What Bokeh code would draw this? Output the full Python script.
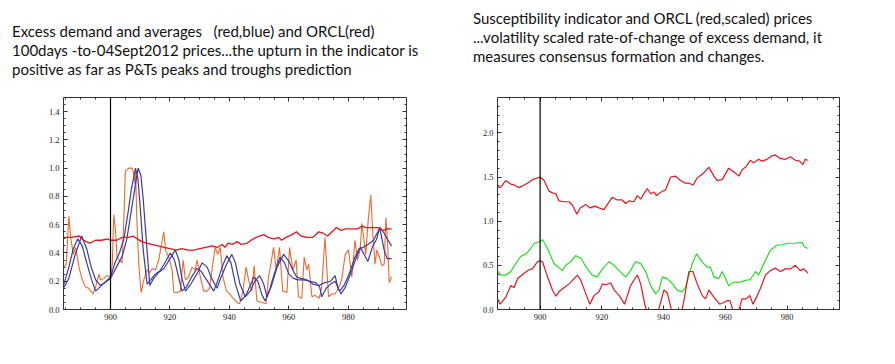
from bokeh.plotting import figure
from bokeh.models import (Div, Span, LinearAxis, FixedTicker, Range1d, NumeralTickFormatter,
                          CustomLabelingPolicy)
from bokeh.layouts import row, column
from bokeh.embed import file_html
from bokeh.resources import INLINE

# ---------------- data: left chart ----------------
orange_x = [884.2, 885.1, 886.0, 886.6, 887.5, 888.3, 889.4, 890.5, 891.6, 892.7, 894.1, 895.0, 896.1, 896.6,
            897.8, 898.9, 900.0, 900.6, 901.1, 901.7, 902.2, 903.0, 903.9, 904.5, 905.0, 906.2, 907.3, 907.8,
            908.2, 908.4, 908.9, 909.5, 910.3, 911.2, 912.3, 913.2, 914.0, 915.1, 916.2, 917.9, 918.5, 919.6,
            920.7, 921.3, 922.4, 923.5, 924.4, 925.2, 926.3, 927.4, 928.5, 929.1, 930.2, 931.3, 932.4, 933.3,
            934.1, 935.2, 936.0, 936.9, 937.8, 939.0, 940.0, 941.2, 942.5, 943.4, 944.5, 945.6, 946.4, 947.5,
            948.3, 949.2, 950.9, 952.3, 953.1, 953.9, 954.8, 955.7, 956.8, 957.9, 959.3, 960.2, 961.3, 962.4,
            963.2, 964.3, 965.1, 966.0, 966.6, 967.7, 968.8, 970.2, 971.0, 972.1, 973.3, 974.4, 975.5, 976.6,
            977.7, 978.9, 980.0, 981.1, 982.2, 983.0, 983.9, 984.5, 985.8, 986.7, 987.5, 988.1, 988.9, 989.5,
            990.4, 991.2, 992.0, 992.6, 993.1, 993.7, 994.5]
orange_v = [0.30, 0.32, 0.66, 0.51, 0.39, 0.44, 0.30, 0.21, 0.16, 0.15, 0.11, 0.16, 0.25, 0.21,
            0.22, 0.24, 0.23, 0.32, 0.67, 0.56, 0.37, 0.35, 0.33, 0.65, 0.98, 1.00, 1.00, 0.96,
            0.89, 0.98, 0.61, 0.32, 0.12, 0.21, 0.28, 0.26, 0.29, 0.28, 0.35, 0.55, 0.42, 0.37,
            0.28, 0.12, 0.12, 0.13, 0.35, 0.21, 0.23, 0.30, 0.28, 0.35, 0.23, 0.13, 0.13, 0.15,
            0.28, 0.44, 0.39, 0.44, 0.23, 0.13, 0.11, 0.08, 0.05, 0.04, 0.13, 0.30, 0.21, 0.13,
            0.31, 0.06, 0.05, 0.04, 0.23, 0.32, 0.44, 0.28, 0.44, 0.13, 0.12, 0.44, 0.28, 0.35,
            0.09, 0.08, 0.37, 0.28, 0.32, 0.09, 0.10, 0.08, 0.16, 0.51, 0.09, 0.11, 0.11, 0.15,
            0.21, 0.39, 0.42, 0.23, 0.49, 0.35, 0.42, 0.61, 0.39, 0.65, 0.81, 0.56, 0.32, 0.42,
            0.37, 0.31, 0.32, 0.65, 0.49, 0.19, 0.23]

blue_a_x = [884.2, 886.0, 887.5, 889.0, 890.5, 892.0, 893.5, 895.0, 896.5, 898.0, 900.0, 901.5, 903.0, 904.5,
            906.0, 907.0, 908.4, 909.2, 910.0, 911.0, 912.3, 913.5, 915.0, 916.5, 918.0, 920.1, 921.5, 923.0,
            924.0, 925.5, 927.0, 929.0, 930.5, 932.0, 934.7, 936.0, 937.5, 939.1, 940.5, 942.0, 943.8, 945.5,
            947.0, 948.1, 949.5, 951.0, 952.0, 953.5, 955.0, 957.0, 958.5, 960.0, 961.5, 963.0, 965.0, 967.0,
            969.0, 970.3, 971.0, 972.5, 974.0, 975.5, 977.0, 978.5, 980.0, 982.0, 983.5, 985.0, 986.5, 988.4,
            990.6, 991.7, 993.0, 994.5]
blue_a_v = [0.17, 0.30, 0.43, 0.50, 0.45, 0.33, 0.22, 0.13, 0.16, 0.19, 0.23, 0.33, 0.40, 0.50,
            0.70, 0.85, 1.00, 0.93, 0.72, 0.42, 0.18, 0.21, 0.25, 0.27, 0.32, 0.40, 0.35, 0.22,
            0.13, 0.16, 0.22, 0.29, 0.27, 0.22, 0.13, 0.20, 0.30, 0.38, 0.33, 0.18, 0.06, 0.10,
            0.17, 0.23, 0.20, 0.10, 0.06, 0.14, 0.25, 0.37, 0.33, 0.25, 0.22, 0.21, 0.21, 0.20,
            0.19, 0.16, 0.09, 0.15, 0.18, 0.20, 0.13, 0.17, 0.24, 0.36, 0.43, 0.44, 0.46, 0.49,
            0.58, 0.55, 0.50, 0.45]

blue_b_x = [884.2, 886.0, 888.0, 890.3, 892.0, 893.5, 895.0, 896.6, 898.0, 900.0, 902.0, 904.0, 905.5, 907.0,
            908.5, 909.3, 910.2, 911.0, 912.0, 913.2, 914.5, 916.0, 918.0, 920.0, 921.8, 923.0, 924.0, 925.2,
            927.0, 929.0, 930.8, 932.5, 934.0, 935.8, 937.0, 939.0, 940.8, 942.0, 943.5, 945.3, 947.0, 948.5,
            950.1, 951.5, 952.6, 954.0, 956.0, 958.2, 960.0, 961.5, 962.6, 964.0, 966.0, 968.0, 970.0, 972.0,
            974.0, 975.5, 976.5, 977.5, 979.0, 981.0, 982.5, 984.0, 985.5, 986.5, 988.0, 989.5, 990.5, 992.0,
            993.0, 994.5]
blue_b_v = [0.15, 0.22, 0.38, 0.52, 0.43, 0.30, 0.21, 0.17, 0.19, 0.22, 0.30, 0.38, 0.50, 0.70,
            0.90, 1.00, 0.95, 0.78, 0.50, 0.17, 0.22, 0.26, 0.29, 0.36, 0.42, 0.35, 0.22, 0.13,
            0.18, 0.25, 0.33, 0.30, 0.22, 0.15, 0.22, 0.32, 0.39, 0.33, 0.18, 0.09, 0.13, 0.20,
            0.24, 0.18, 0.09, 0.16, 0.30, 0.39, 0.34, 0.27, 0.23, 0.22, 0.21, 0.18, 0.17, 0.19,
            0.20, 0.24, 0.15, 0.11, 0.16, 0.27, 0.36, 0.44, 0.38, 0.34, 0.44, 0.50, 0.58, 0.42,
            0.36, 0.36]

price_l_x = [884.2, 887.0, 889.5, 891.0, 893.0, 895.0, 897.0, 899.0, 900.0, 902.0, 904.0, 906.0, 907.5, 909.0,
             910.5, 912.0, 914.0, 916.0, 918.0, 920.0, 922.0, 924.0, 926.0, 928.0, 930.0, 932.0, 934.0, 936.0,
             937.5, 938.5, 939.5, 941.0, 942.5, 944.0, 946.0, 948.0, 950.0, 951.5, 953.0, 955.0, 956.5, 957.5,
             959.0, 961.0, 962.5, 964.0, 966.0, 968.0, 970.0, 971.5, 973.0, 974.5, 976.0, 977.5, 979.0, 981.0,
             983.0, 984.5, 986.0, 988.0, 990.0, 991.5, 993.0, 994.5]
price_l_v = [0.51, 0.51, 0.52, 0.49, 0.47, 0.49, 0.49, 0.50, 0.49, 0.49, 0.51, 0.51, 0.52, 0.50,
             0.48, 0.47, 0.46, 0.45, 0.44, 0.43, 0.42, 0.43, 0.42, 0.42, 0.43, 0.44, 0.45, 0.44,
             0.46, 0.44, 0.47, 0.46, 0.48, 0.46, 0.47, 0.50, 0.52, 0.53, 0.51, 0.50, 0.51, 0.49,
             0.51, 0.53, 0.55, 0.52, 0.51, 0.51, 0.55, 0.54, 0.52, 0.55, 0.58, 0.56, 0.57, 0.57,
             0.57, 0.59, 0.58, 0.58, 0.58, 0.56, 0.57, 0.57]

# ---------------- data: right chart ----------------
price_r_x = [886.2, 887.0, 887.8, 888.9, 890.5, 891.6, 893.0, 894.3, 895.9, 897.5, 900.0, 901.3, 902.9, 904.0,
             905.1, 906.1, 907.8, 909.4, 910.5, 911.9, 913.0, 914.8, 916.2, 917.7, 919.1, 920.7, 921.8, 923.4,
             925.0, 926.6, 927.7, 928.8, 930.4, 931.5, 932.6, 934.7, 935.8, 936.9, 937.7, 939.6, 940.6, 942.3,
             943.9, 945.5, 947.1, 948.2, 949.6, 950.9, 952.5, 954.7, 956.3, 957.4, 959.0, 961.1, 962.7, 964.4,
             965.4, 966.8, 968.1, 969.2, 970.8, 971.9, 973.5, 975.1, 976.2, 977.8, 979.5, 981.1, 982.7, 984.1,
             985.2, 985.9, 986.7]
price_r_v = [1.39, 1.38, 1.41, 1.46, 1.42, 1.41, 1.38, 1.40, 1.43, 1.47, 1.50, 1.46, 1.34, 1.32,
             1.31, 1.23, 1.22, 1.22, 1.18, 1.08, 1.15, 1.19, 1.15, 1.17, 1.15, 1.13, 1.19, 1.27,
             1.24, 1.24, 1.20, 1.23, 1.22, 1.29, 1.25, 1.37, 1.31, 1.33, 1.29, 1.34, 1.35, 1.50,
             1.51, 1.46, 1.43, 1.43, 1.41, 1.49, 1.53, 1.61, 1.51, 1.46, 1.47, 1.60, 1.56, 1.51,
             1.58, 1.62, 1.69, 1.66, 1.70, 1.68, 1.70, 1.74, 1.75, 1.71, 1.70, 1.73, 1.69, 1.68,
             1.64, 1.70, 1.69]

green_x = [886.2, 887.3, 888.9, 890.5, 892.1, 893.7, 895.4, 897.0, 898.1, 900.0, 900.8, 902.4, 904.5, 907.2,
           908.3, 909.9, 911.5, 913.2, 915.3, 916.9, 918.5, 920.2, 922.3, 924.0, 925.6, 927.7, 929.3, 930.9,
           932.6, 934.2, 935.8, 937.4, 938.5, 939.6, 941.2, 942.9, 944.4, 946.0, 947.1, 949.3, 950.7, 952.5,
           954.1, 955.2, 956.3, 957.9, 959.0, 960.1, 961.1, 962.7, 964.9, 966.5, 968.1, 969.8, 970.8, 972.5,
           974.6, 976.8, 978.4, 980.0, 982.7, 984.9, 985.6, 986.7]
green_v = [0.44, 0.39, 0.39, 0.43, 0.52, 0.60, 0.63, 0.69, 0.75, 0.77, 0.79, 0.69, 0.52, 0.44,
           0.50, 0.54, 0.61, 0.58, 0.46, 0.39, 0.37, 0.46, 0.54, 0.50, 0.44, 0.37, 0.44, 0.54,
           0.52, 0.43, 0.27, 0.18, 0.22, 0.37, 0.35, 0.29, 0.22, 0.20, 0.25, 0.52, 0.63, 0.54,
           0.48, 0.48, 0.37, 0.35, 0.43, 0.35, 0.27, 0.31, 0.31, 0.33, 0.34, 0.43, 0.39, 0.52,
           0.67, 0.73, 0.73, 0.75, 0.75, 0.76, 0.71, 0.69]

susc_x = [886.2, 887.0, 888.9, 890.5, 891.6, 892.7, 894.8, 896.4, 897.5, 899.1, 900.0, 900.8, 902.4, 904.0,
          905.1, 906.1, 907.8, 909.4, 911.0, 912.1, 913.2, 914.8, 916.1, 917.5, 919.1, 920.2, 921.2, 922.9,
          924.0, 925.6, 927.4, 929.3, 931.5, 932.6, 933.9, 934.7, 936.9, 938.5, 940.1, 941.2, 942.6, 943.9,
          945.5, 946.8, 948.2, 949.5, 950.9, 952.5, 953.6, 954.7, 956.3, 958.2, 959.5, 960.6, 961.5, 962.5,
          963.3, 964.4, 965.4, 966.8, 967.9, 969.0, 970.1, 971.4, 973.0, 974.6, 976.2, 977.8, 979.5, 981.1,
          982.7, 984.3, 985.4, 986.3, 986.7]
susc_v = [0.12, 0.06, 0.14, 0.27, 0.25, 0.35, 0.41, 0.45, 0.46, 0.54, 0.55, 0.54, 0.37, 0.22,
          0.15, 0.20, 0.25, 0.29, 0.35, 0.39, 0.33, 0.18, 0.06, 0.16, 0.20, 0.29, 0.28, 0.30,
          0.22, 0.16, 0.06, 0.27, 0.39, 0.29, 0.06, -0.03, -0.16, 0.01, 0.22, 0.19, -0.01, -0.16,
          -0.09, 0.14, 0.43, 0.43, 0.29, 0.16, 0.12, 0.22, 0.14, 0.06, 0.08, 0.10, 0.10, -0.01,
          -0.09, -0.01, 0.12, 0.12, 0.16, 0.06, 0.14, 0.24, 0.39, 0.44, 0.47, 0.43, 0.46, 0.46,
          0.50, 0.44, 0.46, 0.43, 0.41]

marker_x = 900
left_yticks = [0.0, 0.2, 0.4, 0.6, 0.8, 1.0, 1.2, 1.4]
right_yticks = [0.0, 0.5, 1.0, 1.5, 2.0]
xticks = [900, 920, 940, 960, 980]

left_title = ("Excess demand and averages&nbsp;&nbsp; (red,blue) and ORCL(red)<br>"
              "100days -to-04Sept2012 prices...the upturn in the indicator is<br>"
              "positive as far as P&amp;Ts peaks and troughs prediction")
right_title = ("Susceptibility indicator and ORCL (red,scaled) prices<br>"
               "...volatility scaled rate-of-change of excess demand, it<br>"
               "measures consensus formation and changes.")

RED = "#E8141B"
ORANGE = "#EE6A2C"
BLUE = "#3C3CA0"
GREEN = "#22DD22"
TICK_FONT = "Liberation Serif"

NO_LABELS = CustomLabelingPolicy(code="""
for (let i = 0; i < indices.size; i++) { indices.unset(i) }
return indices
""")


def style_axis(ax, ticks, minor, labels=True, fmt=None):
    ax.ticker = FixedTicker(ticks=ticks, minor_ticks=minor)
    ax.major_tick_in = 4
    ax.major_tick_out = 0
    ax.minor_tick_in = 2
    ax.minor_tick_out = 0
    ax.axis_line_color = None
    ax.major_tick_line_color = "#333333"
    ax.minor_tick_line_color = "#333333"
    ax.major_label_text_font = TICK_FONT
    ax.major_label_text_color = "#222222"
    ax.major_label_standoff = 4
    ax.major_label_text_font_size = "8.5px"
    if fmt is not None:
        ax.formatter = fmt
    if not labels:
        ax.major_label_policy = NO_LABELS
        ax.major_label_standoff = 0


def make_fig(xr, yr, yticks, yminor, xminor, fw, lb, rb):
    p = figure(frame_width=fw, frame_height=212,
               x_range=Range1d(*xr), y_range=Range1d(*yr),
               output_backend="svg", toolbar_location=None,
               min_border_left=lb, min_border_right=rb,
               min_border_top=9, min_border_bottom=30,
               x_axis_location=None, y_axis_location=None)
    p.grid.visible = False
    p.outline_line_color = "#333333"
    p.outline_line_width = 1
    for loc, lab in [("below", True), ("above", False)]:
        ax = LinearAxis()
        style_axis(ax, xticks, xminor, lab)
        p.add_layout(ax, loc)
    for loc, lab in [("left", True), ("right", False)]:
        ax = LinearAxis()
        style_axis(ax, yticks, yminor, lab, NumeralTickFormatter(format="0.0"))
        p.add_layout(ax, loc)
    p.add_layout(Span(location=marker_x, dimension="height", line_color="black", line_width=1.2))
    return p


xminor = list(range(885, 1000, 5))

p1 = make_fig((884.2, 999.5), (0, 1.5), left_yticks,
              [round(i * 0.05, 2) for i in range(0, 31)], xminor, 343, 63, 44)
p1.line(orange_x, orange_v, line_color=ORANGE, line_width=1.1)
p1.line(blue_a_x, blue_a_v, line_color=BLUE, line_width=1.2)
p1.line(blue_b_x, blue_b_v, line_color=BLUE, line_width=1.2)
p1.line(price_l_x, price_l_v, line_color=RED, line_width=1.3)

p2 = make_fig((886.2, 997.0), (0, 2.4), right_yticks,
              [round(i * 0.1, 2) for i in range(0, 25)], xminor, 342, 47, 40)
p2.line(price_r_x, price_r_v, line_color=RED, line_width=1.2)
p2.line(green_x, green_v, line_color=GREEN, line_width=1.2)
p2.line(susc_x, susc_v, line_color=RED, line_width=1.2)

div_style = {"font-family": "Lato", "font-size": "15px", "line-height": "19px", "color": "#111111"}
d1 = Div(text=left_title, width=450, height=88, margin=(0, 0, 0, 0),
         styles=dict(div_style, **{"padding-left": "12px", "padding-top": "22px"}))
d2 = Div(text=right_title, width=429, height=88, margin=(0, 0, 0, 0),
         styles=dict(div_style, **{"padding-left": "23px", "padding-top": "9px"}))

layout = row(column(d1, p1), column(d2, p2))

open("out.html", "w").write(file_html(layout, INLINE))
